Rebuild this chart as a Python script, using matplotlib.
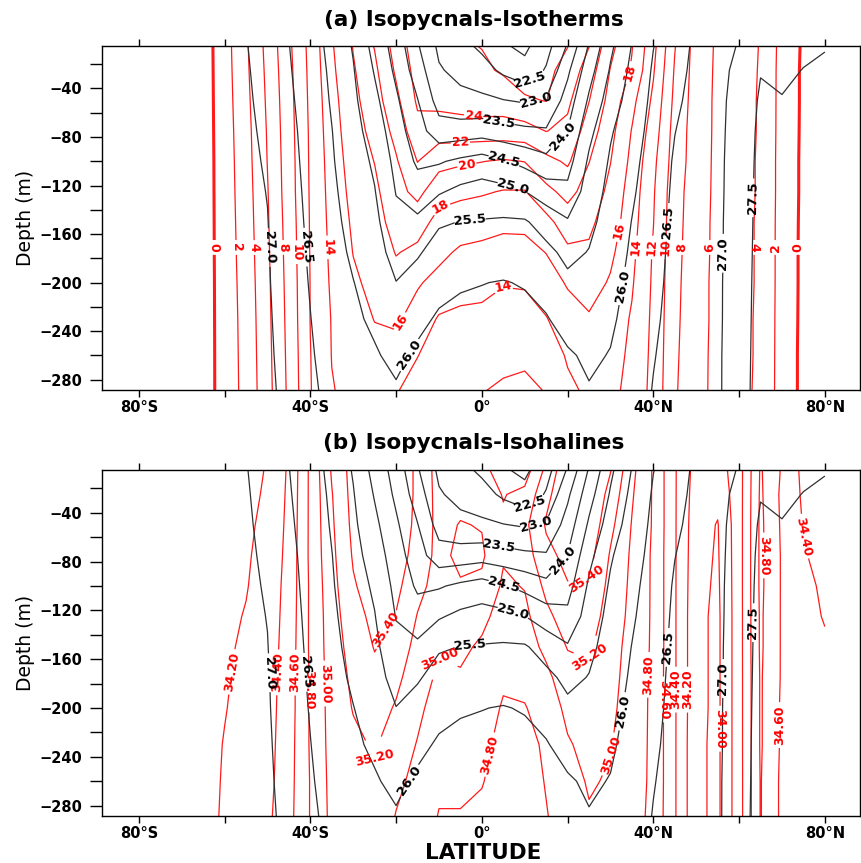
import numpy as np
import matplotlib.pyplot as plt
from matplotlib.ticker import FixedLocator, FixedFormatter

plt.rcParams['font.family'] = 'DejaVu Sans'
plt.rcParams['font.weight'] = 'bold'

# latitude of each profile (deg, negative = south) and depth levels (m)
lats = [-65, -60, -55, -50, -45, -40, -35, -30, -25, -20, -15, -10, -5, 0, 5,
        10, 15, 20, 25, 30, 35, 40, 45, 50, 55, 60, 65, 70, 75, 80]
depths = [5, 25, 50, 75, 100, 125, 150, 175, 200, 230, 260, 290]

# potential density anomaly (kg/m3), one profile per latitude
sigma = [
    [27.25] * 12,
    [27.18, 27.18, 27.19, 27.19, 27.20, 27.20, 27.20, 27.21, 27.21, 27.22, 27.22, 27.23],
    [27.02, 27.04, 27.06, 27.08, 27.09, 27.10, 27.11, 27.12, 27.13, 27.14, 27.15, 27.16],
    [26.80, 26.84, 26.88, 26.92, 26.96, 26.99, 27.01, 27.03, 27.04, 27.06, 27.08, 27.10],
    [26.51, 26.54, 26.58, 26.62, 26.65, 26.68, 26.70, 26.73, 26.76, 26.79, 26.82, 26.86],
    [26.20, 26.24, 26.28, 26.32, 26.35, 26.38, 26.41, 26.44, 26.47, 26.51, 26.55, 26.60],
    [25.88, 25.92, 25.96, 26.01, 26.04, 26.08, 26.12, 26.16, 26.20, 26.25, 26.30, 26.35],
    [25.46, 25.53, 25.60, 25.67, 25.74, 25.80, 25.86, 25.93, 26.01, 26.07, 26.14, 26.20],
    [24.82, 24.96, 25.12, 25.28, 25.42, 25.52, 25.62, 25.72, 25.82, 25.93, 26.04, 26.12],
    [24.30, 24.40, 24.58, 24.72, 24.86, 24.98, 25.12, 25.30, 25.51, 25.70, 25.90, 26.05],
    [23.55, 23.75, 24.02, 24.22, 24.42, 24.72, 25.10, 25.45, 25.68, 25.90, 26.07, 26.20],
    [22.90, 23.05, 23.30, 23.70, 24.45, 24.95, 25.45, 25.68, 25.88, 26.05, 26.16, 26.25],
    [22.65, 22.85, 23.15, 23.72, 24.60, 25.12, 25.51, 25.73, 25.96, 26.10, 26.20, 26.28],
    [22.40, 22.70, 23.10, 23.78, 24.72, 25.20, 25.53, 25.75, 25.99, 26.12, 26.22, 26.30],
    [22.05, 22.40, 23.02, 23.68, 24.55, 25.15, 25.56, 25.78, 26.02, 26.13, 26.22, 26.30],
    [21.90, 22.15, 22.95, 23.60, 24.35, 25.01, 25.55, 25.76, 25.97, 26.12, 26.22, 26.30],
    [22.30, 22.55, 23.05, 23.55, 24.15, 24.75, 25.30, 25.62, 25.84, 26.03, 26.15, 26.25],
    [23.05, 23.40, 23.72, 24.01, 24.30, 24.62, 25.05, 25.38, 25.60, 25.84, 26.05, 26.20],
    [24.05, 24.30, 24.58, 24.86, 25.08, 25.24, 25.38, 25.52, 25.66, 25.80, 25.93, 26.03],
    [24.90, 25.05, 25.25, 25.45, 25.56, 25.64, 25.71, 25.78, 25.85, 25.93, 26.02, 26.12],
    [25.52, 25.62, 25.72, 25.80, 25.88, 25.94, 26.01, 26.06, 26.11, 26.17, 26.23, 26.30],
    [25.99, 26.05, 26.10, 26.15, 26.20, 26.25, 26.30, 26.34, 26.38, 26.43, 26.48, 26.52],
    [26.22, 26.30, 26.40, 26.49, 26.55, 26.58, 26.60, 26.62, 26.63, 26.64, 26.65, 26.66],
    [26.62, 26.65, 26.68, 26.70, 26.72, 26.73, 26.74, 26.75, 26.76, 26.77, 26.78, 26.79],
    [26.88, 26.88, 26.89, 26.89, 26.90, 26.90, 26.91, 26.91, 26.92, 26.92, 26.93, 26.93],
    [27.02, 27.10, 27.16, 27.20, 27.22, 27.24, 27.25, 27.26, 27.27, 27.28, 27.29, 27.30],
    [27.40, 27.48, 27.56, 27.60, 27.62, 27.63, 27.64, 27.65, 27.66, 27.67, 27.68, 27.69],
    [27.30, 27.42, 27.52, 27.58, 27.62, 27.64, 27.66, 27.67, 27.68, 27.69, 27.70, 27.71],
    [27.42, 27.51, 27.58, 27.62, 27.65, 27.67, 27.68, 27.69, 27.70, 27.71, 27.72, 27.73],
    [27.48, 27.56, 27.62, 27.66, 27.68, 27.70, 27.71, 27.72, 27.73, 27.74, 27.75, 27.76],
]

# temperature (deg C)
temp = [
    [-1.0] * 12,
    [1.2, 1.15, 1.1, 1.05, 1.0, 0.98, 0.95, 0.93, 0.9, 0.88, 0.86, 0.85],
    [3.7, 3.6, 3.45, 3.3, 3.2, 3.1, 3.0, 2.9, 2.8, 2.7, 2.65, 2.6],
    [6.6, 6.45, 6.3, 6.15, 6.05, 5.9, 5.8, 5.7, 5.6, 5.5, 5.4, 5.3],
    [9.6, 9.45, 9.3, 9.2, 9.1, 9.05, 8.9, 8.8, 8.7, 8.6, 8.5, 8.4],
    [12.6, 12.5, 12.4, 12.3, 12.25, 12.2, 12.15, 12.1, 12.05, 12.05, 11.95, 11.9],
    [15.8, 15.6, 15.3, 15.1, 14.9, 14.75, 14.6, 14.45, 14.3, 14.1, 14.05, 13.9],
    [18.1, 17.8, 17.5, 17.2, 16.9, 16.6, 16.3, 16.05, 15.7, 15.3, 14.9, 14.5],
    [20.1, 19.6, 19.1, 18.6, 18.05, 17.6, 17.2, 16.8, 16.5, 16.05, 15.5, 14.8],
    [22.8, 22.3, 21.5, 20.6, 19.8, 19.3, 18.8, 18.1, 17.3, 16.3, 15.3, 14.1],
    [25.2, 24.8, 24.3, 23.4, 22.05, 20.6, 18.8, 17.6, 16.2, 15.2, 14.05, 13.2],
    [25.6, 25.3, 24.6, 22.9, 20.7, 18.7, 17.4, 16.5, 15.4, 13.8, 13.05, 12.5],
    [25.8, 25.5, 24.8, 23.05, 20.3, 18.4, 17.05, 15.7, 14.7, 13.6, 12.9, 12.2],
    [26.05, 25.7, 25.05, 23.05, 20.05, 18.2, 16.8, 15.5, 14.6, 13.5, 12.7, 12.05],
    [27.0, 26.2, 25.05, 23.05, 19.8, 17.9, 16.5, 15.2, 14.1, 13.3, 12.5, 11.7],
    [27.5, 26.8, 25.8, 23.2, 20.05, 17.9, 16.5, 15.3, 14.2, 13.2, 12.3, 11.6],
    [27.1, 26.5, 26.05, 24.05, 21.4, 19.5, 17.4, 16.05, 15.05, 13.9, 12.9, 12.05],
    [26.05, 25.3, 24.4, 23.5, 22.3, 20.6, 19.05, 17.6, 16.2, 15.1, 14.2, 13.6],
    [24.05, 23.05, 22.05, 21.05, 20.05, 19.2, 18.4, 17.7, 16.8, 15.8, 15.05, 14.3],
    [20.6, 19.9, 19.3, 18.6, 18.05, 17.5, 17.05, 16.4, 15.8, 15.2, 14.8, 14.5],
    [18.1, 17.8, 16.6, 15.9, 15.5, 15.1, 14.8, 14.5, 14.2, 13.8, 13.6, 13.4],
    [14.6, 14.2, 13.6, 13.05, 12.5, 12.2, 12.05, 11.8, 11.7, 11.6, 11.5, 11.4],
    [10.1, 9.8, 9.5, 9.2, 9.05, 8.8, 8.7, 8.6, 8.5, 8.4, 8.3, 8.2],
    [7.2, 7.15, 7.1, 7.05, 7.05, 6.95, 6.9, 6.85, 6.8, 6.8, 6.75, 6.7],
    [5.7, 5.65, 5.6, 5.6, 5.55, 5.55, 5.5, 5.5, 5.45, 5.45, 5.4, 5.4],
    [4.9, 4.85, 4.8, 4.8, 4.75, 4.75, 4.7, 4.7, 4.7, 4.65, 4.65, 4.6],
    [3.9, 3.85, 3.8, 3.8, 3.75, 3.75, 3.7, 3.7, 3.7, 3.65, 3.65, 3.6],
    [1.35, 1.3, 1.3, 1.28, 1.25, 1.25, 1.22, 1.2, 1.2, 1.18, 1.15, 1.15],
    [-0.25, -0.3, -0.3, -0.32, -0.35, -0.35, -0.38, -0.4, -0.4, -0.42, -0.45, -0.45],
    [-1.2] * 12,
]

# salinity (psu)
salt = [
    [34.12] * 12,
    [34.10, 34.11, 34.12, 34.14, 34.15, 34.16, 34.17, 34.18, 34.19, 34.21, 34.22, 34.23],
    [34.15, 34.16, 34.17, 34.18, 34.19, 34.21, 34.23, 34.25, 34.27, 34.28, 34.30, 34.31],
    [34.21, 34.22, 34.24, 34.26, 34.28, 34.29, 34.30, 34.31, 34.32, 34.33, 34.34, 34.36],
    [34.43, 34.44, 34.45, 34.46, 34.47, 34.48, 34.49, 34.51, 34.51, 34.52, 34.53, 34.54],
    [34.84, 34.84, 34.84, 34.84, 34.83, 34.83, 34.83, 34.82, 34.82, 34.82, 34.81, 34.81],
    [35.22, 35.19, 35.17, 35.15, 35.13, 35.11, 35.10, 35.09, 35.08, 35.07, 35.06, 35.05],
    [35.48, 35.47, 35.45, 35.42, 35.38, 35.33, 35.28, 35.24, 35.21, 35.16, 35.13, 35.10],
    [35.60, 35.60, 35.58, 35.55, 35.50, 35.45, 35.41, 35.35, 35.29, 35.22, 35.17, 35.12],
    [35.55, 35.55, 35.53, 35.50, 35.45, 35.39, 35.33, 35.25, 35.18, 35.10, 35.04, 34.99],
    [35.36, 35.36, 35.35, 35.32, 35.26, 35.19, 35.13, 35.08, 35.04, 34.99, 34.95, 34.90],
    [35.12, 35.13, 35.14, 35.14, 35.12, 35.07, 35.02, 34.97, 34.92, 34.87, 34.83, 34.79],
    [35.10, 35.14, 35.21, 35.25, 35.18, 35.10, 35.04, 34.98, 34.93, 34.88, 34.83, 34.79],
    [35.03, 35.10, 35.19, 35.23, 35.16, 35.05, 34.97, 34.93, 34.90, 34.85, 34.81, 34.76],
    [34.95, 34.99, 35.03, 35.02, 34.97, 34.92, 34.88, 34.83, 34.78, 34.74, 34.72, 34.70],
    [34.90, 35.05, 35.15, 35.10, 35.01, 34.95, 34.90, 34.85, 34.79, 34.74, 34.72, 34.70],
    [35.25, 35.35, 35.42, 35.35, 35.25, 35.15, 35.05, 34.95, 34.88, 34.83, 34.81, 34.79],
    [35.55, 35.55, 35.50, 35.45, 35.39, 35.30, 35.21, 35.12, 35.05, 34.98, 34.92, 34.88],
    [35.62, 35.60, 35.55, 35.47, 35.38, 35.30, 35.23, 35.16, 35.11, 35.06, 35.02, 34.98],
    [35.41, 35.33, 35.25, 35.18, 35.14, 35.11, 35.08, 35.06, 35.04, 35.01, 34.98, 34.95],
    [35.05, 35.02, 34.99, 34.97, 34.96, 34.95, 34.93, 34.92, 34.91, 34.90, 34.89, 34.88],
    [34.78, 34.78, 34.78, 34.77, 34.77, 34.77, 34.77, 34.76, 34.76, 34.76, 34.76, 34.75],
    [34.42, 34.42, 34.42, 34.42, 34.42, 34.42, 34.42, 34.42, 34.42, 34.42, 34.42, 34.42],
    [34.12, 34.10, 34.08, 34.07, 34.06, 34.05, 34.05, 34.05, 34.05, 34.04, 34.04, 34.04],
    [34.10, 34.05, 33.99, 33.98, 33.97, 33.96, 33.96, 33.96, 33.96, 33.96, 33.96, 33.96],
    [34.32, 34.32, 34.32, 34.32, 34.32, 34.32, 34.32, 34.32, 34.32, 34.32, 34.32, 34.32],
    [34.82, 34.83, 34.84, 34.84, 34.84, 34.83, 34.83, 34.82, 34.82, 34.82, 34.81, 34.81],
    [34.58, 34.56, 34.57, 34.58, 34.58, 34.58, 34.58, 34.58, 34.57, 34.57, 34.56, 34.56],
    [34.35, 34.37, 34.39, 34.41, 34.43, 34.45, 34.47, 34.48, 34.50, 34.50, 34.51, 34.52],
    [34.30, 34.32, 34.34, 34.36, 34.38, 34.39, 34.42, 34.44, 34.46, 34.47, 34.48, 34.48],
]

sigma_levels = np.arange(22.0, 28.0, 0.5)
temp_levels = np.arange(0, 30, 2)
salt_levels = np.round(np.arange(34.0, 35.5, 0.2), 2)

# where the contour labels sit (lat, depth)
sigma_spots = [(-49, -171), (57.8, -176), (-41.7, -171), (42.2, -150), (-19, -253),
               (33, -203), (-2.8, -143), (7.3, -121), (5, -102), (19, -80),
               (3.8, -72), (12.7, -52), (12, -40), (62.2, -130)]
temp_spots = [(-62.2, -171), (73.7, -171), (-57.1, -171), (67.8, -171), (-52.4, -171),
              (65.3, -171), (-46.2, -171), (46.2, -171), (-43.8, -175), (42.7, -171),
              (39.6, -171), (-36.4, -171), (36.1, -171), (5, -203), (-20, -230),
              (32, -157), (-9.8, -134), (35, -28), (-3.5, -103), (-5, -85), (-2, -66),
              (52.4, -171)]
salt_spots = [(-57.6, -171), (47.8, -185), (-47, -171), (45, -185), (74, -60),
              (-44, -171), (43, -193), (69.5, -214), (-40.5, -185), (39.6, -173),
              (2.6, -239), (65.5, -75), (-37.3, -180), (-9.8, -160), (30.5, -239),
              (-25, -241), (26, -160), (-21.4, -138), (24.5, -92), (54.8, -217)]

x = np.array(lats)
z = -np.array(depths)
S = np.array(sigma).T
T = np.array(temp).T
SA = np.array(salt).T

RED = '#ff1a1a'
BLK = '#303030'

fig = plt.figure(figsize=(8.62, 8.63), dpi=100)
ax1 = fig.add_axes([0.1183, 0.5481, 0.8794, 0.3986])
ax2 = fig.add_axes([0.1183, 0.0545, 0.8794, 0.4009])


def panel(ax, field, levels, fmt, spots, widths):
    cr = ax.contour(x, z, field, levels=levels, colors=RED, linewidths=widths)
    ax.clabel(cr, manual=spots, inline=True, inline_spacing=3, fmt=fmt,
              fontsize=9, colors='red')
    cb = ax.contour(x, z, S, levels=sigma_levels, colors=BLK, linewidths=0.9)
    ax.clabel(cb, manual=sigma_spots, inline=True, inline_spacing=3, fmt='%.1f',
              fontsize=9.5, colors='black')

    ax.set_xlim(-88.6, 88.2)
    ax.set_ylim(-288.5, -5)
    ax.xaxis.set_major_locator(FixedLocator([-80, -40, 0, 40, 80]))
    ax.xaxis.set_major_formatter(FixedFormatter(['80°S', '40°S', '0°', '40°N', '80°N']))
    ax.xaxis.set_minor_locator(FixedLocator([-60, -20, 20, 60]))
    ax.yaxis.set_major_locator(FixedLocator(np.arange(-280, 0, 40)))
    ax.yaxis.set_minor_locator(FixedLocator(np.arange(-260, 0, 40)))
    ax.tick_params(axis='x', which='both', direction='out', length=5, width=1,
                   top=True, labelsize=10.5, pad=2)
    ax.tick_params(axis='y', which='both', direction='out', length=8.5, width=1,
                   right=False, labelsize=10.5, pad=6)
    ax.set_ylabel('Depth (m)', fontsize=13.5, labelpad=3)
    for sp in ax.spines.values():
        sp.set_linewidth(1.0)


temp_widths = [2.2 if lev == 0 else 0.9 for lev in temp_levels]
panel(ax1, T, temp_levels, '%d', temp_spots, temp_widths)
panel(ax2, SA, salt_levels, '%.2f', salt_spots, 0.9)

fig.text(0.55, 0.977, '(a) Isopycnals-Isotherms', ha='center', va='center', fontsize=15.5)
fig.text(0.55, 0.487, '(b) Isopycnals-Isohalines', ha='center', va='center', fontsize=15.5)
fig.text(0.56, 0.012, 'LATITUDE', ha='center', va='center', fontsize=15.5)

fig.savefig('out.png', dpi=100)
